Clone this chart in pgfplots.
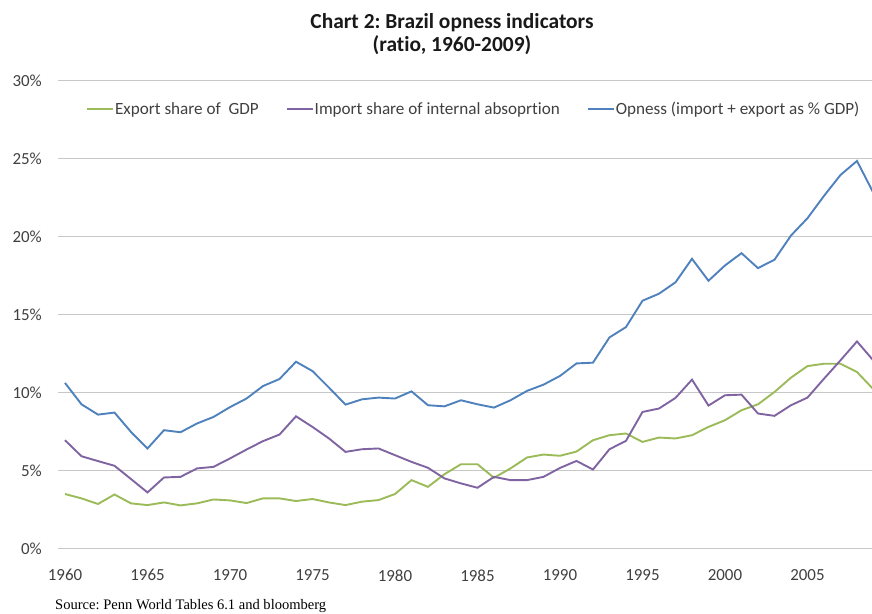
\documentclass[border=0pt]{standalone}
\usepackage{fontspec}
\setmainfont{Carlito}[Ligatures=NoCommon]
\newfontfamily\timesfont{Liberation Serif}
\usepackage{pgfplots}
\usepackage{pgfplotstable}
\pgfplotsset{compat=1.18}
\frenchspacing

\definecolor{xlgreen}{HTML}{9BBB59}
\definecolor{xlpurple}{HTML}{8064A2}
\definecolor{xlblue}{HTML}{4F81BD}
\definecolor{ticktext}{HTML}{404040}

% year, export share, import share, openness (all in %)
\pgfplotstableread{
year  exp    imp    open
1960  3.48   6.93   10.60
1961  3.20   5.90   9.23
1962  2.84   5.59   8.57
1963  3.45   5.29   8.70
1964  2.88   4.44   7.46
1965  2.77   3.58   6.40
1966  2.94   4.54   7.57
1967  2.75   4.58   7.44
1968  2.88   5.12   8.00
1969  3.13   5.22   8.42
1970  3.07   5.76   9.05
1971  2.90   6.33   9.60
1972  3.20   6.87   10.40
1973  3.20   7.29   10.85
1974  3.03   8.46   11.96
1975  3.16   7.78   11.36
1976  2.94   7.04   10.30
1977  2.77   6.18   9.21
1978  2.99   6.35   9.55
1979  3.09   6.40   9.66
1980  3.48   5.97   9.60
1981  4.37   5.54   10.06
1982  3.94   5.16   9.17
1983  4.75   4.48   9.10
1984  5.39   4.16   9.49
1985  5.39   3.88   9.23
1986  4.52   4.58   9.02
1987  5.12   4.37   9.49
1988  5.82   4.37   10.09
1989  6.01   4.58   10.49
1990  5.93   5.15   11.05
1991  6.20   5.60   11.85
1992  6.93   5.05   11.90
1993  7.25   6.35   13.52
1994  7.36   6.89   14.18
1995  6.82   8.74   15.87
1996  7.10   8.96   16.32
1997  7.04   9.64   17.05
1998  7.25   10.81  18.56
1999  7.78   9.15   17.15
2000  8.21   9.81   18.13
2001  8.85   9.85   18.92
2002  9.23   8.64   17.96
2003  10.02  8.49   18.50
2004  10.94  9.17   20.05
2005  11.68  9.66   21.16
2006  11.83  10.87  22.59
2007  11.83  12.05  23.93
2008  11.30  13.26  24.83
2009  10.19  12.03  22.77
}\brazil

\begin{document}
\begin{tikzpicture}
\useasboundingbox (0,0) rectangle (872bp,614bp);
\begin{axis}[
    at={(58bp,65.7bp)}, anchor=south west,
    scale only axis,
    width=814bp, height=468bp,
    xmin=1959.576, xmax=2008.91,
    ymin=0, ymax=30,
    xtick={1960,1965,...,2005},
    ytick={0,5,...,30},
    ymajorgrids,
    grid style={draw=black!22, line width=1.1bp},
    axis line style={draw=none},
    major tick length=0pt,
    /pgf/number format/assume math mode=true,
    /pgf/number format/1000 sep={},
    yticklabel={\pgfmathprintnumber{\tick}\%},
    ticklabel style={font=\fontsize{17}{20}\selectfont, text=ticktext},
    yticklabel style={anchor=east, inner sep=0pt, xshift=-16bp},
    xticklabel style={anchor=north, inner sep=0pt, yshift=-21bp},
    legend columns=3,
    legend style={
        draw=none, fill=none, inner sep=0pt,
        at={(28bp,439bp)}, anchor=west,
        font=\fontsize{17.2}{20}\selectfont, text=ticktext,
        /tikz/every even column/.append style={column sep=26bp},
        nodes={inner sep=1bp},
    },
    legend image code/.code={\draw[#1] (0bp,0bp) -- (26bp,0bp);},
    every axis plot/.append style={line width=1.9bp},
]
\addplot[xlgreen] table[x=year, y=exp] {\brazil};
\addplot[xlpurple] table[x=year, y=imp] {\brazil};
\addplot[xlblue] table[x=year, y=open] {\brazil};
\legend{Export share of\ \ GDP, Import share of internal absoprtion, Opness (import + export as \% GDP)}
\end{axis}
\node[font=\bfseries\fontsize{21.5}{23.5}\selectfont, align=center, text=black!90] at (452bp,580bp)
    {Chart 2: Brazil opness indicators\\(ratio, 1960-2009)};
\node[font=\timesfont\fontsize{14.6}{17}\selectfont, anchor=base west, inner sep=0pt] at (55bp,5bp)
    {Source: Penn World Tables 6.1 and bloomberg};
\end{tikzpicture}
\end{document}
